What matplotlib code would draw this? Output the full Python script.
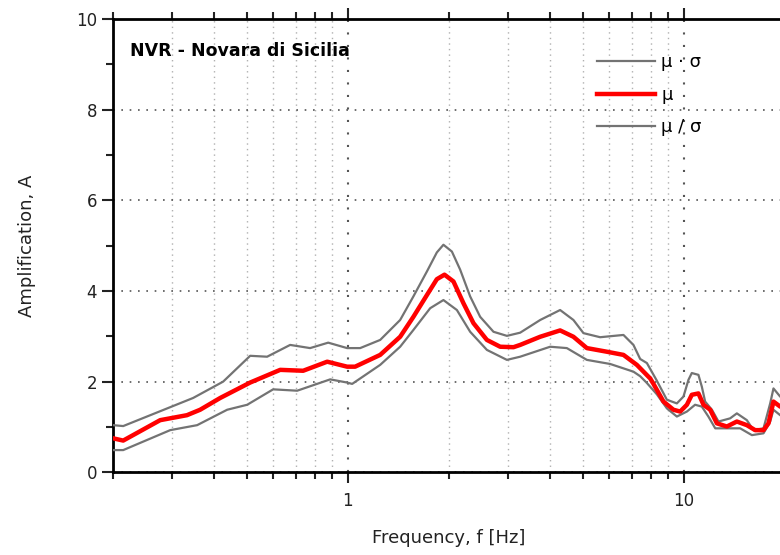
import matplotlib
matplotlib.use("Agg")
import matplotlib.pyplot as plt
from matplotlib.ticker import LogLocator, NullFormatter, FixedLocator, FixedFormatter, MultipleLocator

# mean spectral ratio (mu)
f_mean = [0.200, 0.2145, 0.2763, 0.332, 0.3634, 0.417, 0.512, 0.629, 0.7361, 0.868,
          0.995, 1.051, 1.248, 1.431, 1.567, 1.719, 1.840, 1.939, 2.062, 2.208,
          2.365, 2.593, 2.840, 3.111, 3.257, 3.736, 4.283, 4.692, 5.144, 5.899,
          6.611, 7.246, 7.940, 8.121, 8.697, 9.312, 9.750, 10.21, 10.56, 11.05,
          11.44, 11.98, 12.54, 13.43, 14.38, 15.40, 16.30, 17.26, 17.86, 18.48,
          19.35, 20.0]
a_mean = [0.75, 0.70, 1.15, 1.26, 1.38, 1.64, 1.98, 2.26, 2.24, 2.44,
          2.33, 2.33, 2.59, 2.99, 3.43, 3.91, 4.26, 4.36, 4.21, 3.73,
          3.29, 2.92, 2.77, 2.76, 2.81, 2.99, 3.13, 2.99, 2.74, 2.66,
          2.59, 2.37, 2.07, 1.95, 1.56, 1.38, 1.34, 1.49, 1.71, 1.74,
          1.49, 1.38, 1.08, 1.01, 1.12, 1.04, 0.93, 0.93, 1.08, 1.56,
          1.45, 1.42]

# mu * sigma
f_up = [0.200, 0.2145, 0.3464, 0.4254, 0.512, 0.575, 0.6734, 0.7721, 0.874, 0.995,
        1.088, 1.248, 1.431, 1.567, 1.719, 1.840, 1.925, 2.040, 2.159, 2.312,
        2.476, 2.713, 2.974, 3.257, 3.736, 4.283, 4.692, 5.026, 5.634, 6.611,
        7.079, 7.413, 7.762, 8.312, 8.902, 9.532, 9.973, 10.32, 10.56, 11.05,
        11.31, 11.57, 12.12, 12.68, 13.73, 14.38, 15.40, 16.11, 17.26, 18.07,
        18.48, 19.35, 20.0]
a_up = [1.04, 1.02, 1.64, 2.00, 2.57, 2.55, 2.81, 2.74, 2.86, 2.74,
        2.74, 2.92, 3.36, 3.88, 4.43, 4.85, 5.02, 4.87, 4.47, 3.88,
        3.43, 3.10, 3.01, 3.08, 3.36, 3.58, 3.36, 3.07, 2.98, 3.03,
        2.81, 2.50, 2.41, 2.02, 1.60, 1.52, 1.67, 2.04, 2.19, 2.15,
        1.89, 1.56, 1.38, 1.12, 1.19, 1.30, 1.15, 0.93, 0.97, 1.52,
        1.85, 1.67, 1.62]

# mu / sigma
f_lo = [0.200, 0.2145, 0.296, 0.356, 0.4373, 0.5017, 0.5993, 0.7066, 0.886, 0.995,
        1.030, 1.248, 1.431, 1.567, 1.758, 1.925, 2.111, 2.312, 2.593, 2.974,
        3.257, 4.000, 4.485, 5.144, 6.034, 7.079, 7.413, 7.762, 8.312, 8.902,
        9.532, 10.21, 10.80, 11.31, 11.83, 12.40, 13.73, 14.71, 15.94, 17.26,
        18.07, 18.48, 19.35, 20.0]
a_lo = [0.49, 0.49, 0.93, 1.04, 1.38, 1.49, 1.83, 1.80, 2.05, 1.98,
        1.95, 2.37, 2.77, 3.14, 3.62, 3.80, 3.58, 3.10, 2.70, 2.48,
        2.55, 2.77, 2.74, 2.48, 2.39, 2.22, 2.12, 1.97, 1.72, 1.41,
        1.23, 1.34, 1.49, 1.45, 1.23, 0.97, 0.97, 0.97, 0.82, 0.86,
        1.12, 1.38, 1.26, 1.22]

fig = plt.figure(figsize=(7.8, 5.55), dpi=100)
ax = fig.add_axes([113 / 780, 1 - 472.3 / 555, 672 / 780, 453.3 / 555])

grey = "#737373"
ax.plot(f_up, a_up, color=grey, lw=1.6, label="\u03bc \u00b7 \u03c3", zorder=3)
ax.plot(f_mean, a_mean, color="#ff0000", lw=3.2, label="\u03bc", zorder=4)
ax.plot(f_lo, a_lo, color=grey, lw=1.6, label="\u03bc / \u03c3", zorder=3)

ax.set_xscale("log")
ax.set_xlim(0.2, 20)
ax.set_ylim(0, 10)

ax.xaxis.set_major_locator(FixedLocator([1, 10]))
ax.xaxis.set_major_formatter(FixedFormatter(["1", "10"]))
ax.xaxis.set_minor_locator(LogLocator(base=10, subs=range(2, 10)))
ax.xaxis.set_minor_formatter(NullFormatter())
ax.yaxis.set_major_locator(MultipleLocator(2))
ax.yaxis.set_minor_locator(MultipleLocator(1))

ax.tick_params(which="both", direction="out", top=True, right=False, width=1.5,
               labelsize=12, colors="#222222")
ax.tick_params(which="major", length=8)
ax.tick_params(which="minor", length=5)
ax.tick_params(axis="x", pad=6)

for side in ["left", "bottom", "top"]:
    ax.spines[side].set_linewidth(2)
ax.spines["right"].set_visible(False)

ax.grid(True, which="major", axis="y", linestyle=(0, (1, 4)), color="#555555", lw=1.2)
ax.grid(True, which="major", axis="x", linestyle=(0, (1, 5)), color="#555555", lw=1.5)
ax.grid(True, which="minor", axis="x", linestyle=(0, (1, 3)), color="#b0b0b0", lw=1.0)

ax.set_xlabel("Frequency, f [Hz]", fontsize=13, labelpad=14, color="#222222")
ax.set_ylabel("Amplification, A", fontsize=13, labelpad=29, color="#222222")

ax.text(0.025, 0.93, "NVR - Novara di Sicilia", transform=ax.transAxes,
        fontsize=12.5, fontweight="bold", va="center", ha="left")

leg = ax.legend(loc="upper left", bbox_to_anchor=(0.696, 0.96), frameon=False,
                fontsize=13, handlelength=3.2, labelspacing=0.8, handletextpad=0.35)

fig.savefig("out.png", dpi=100)
